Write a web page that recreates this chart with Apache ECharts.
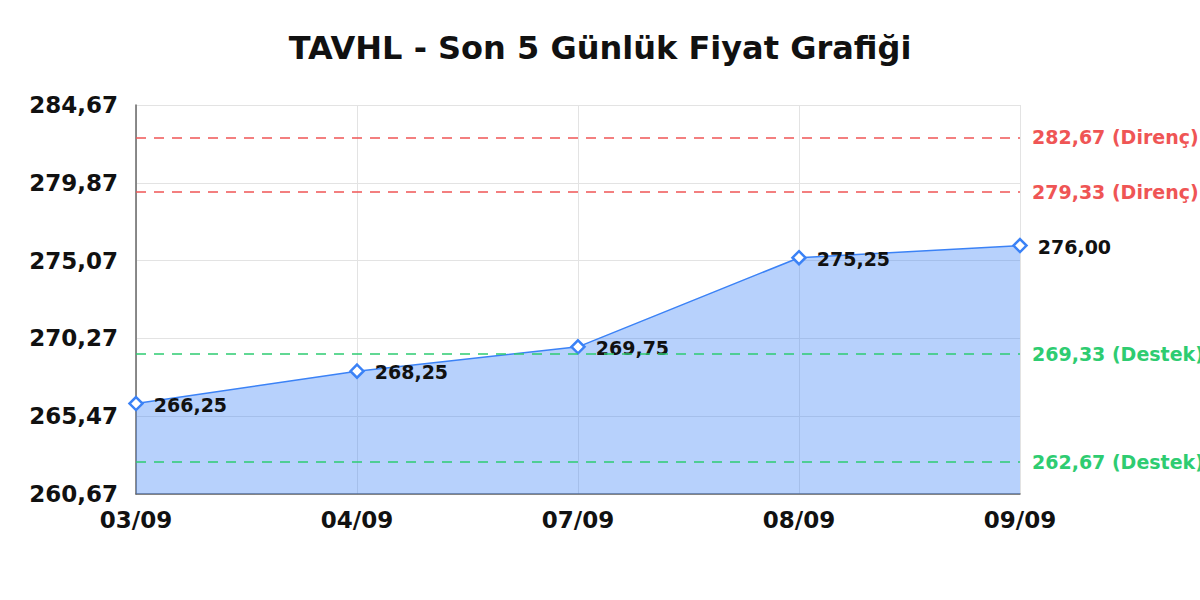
<!DOCTYPE html>
<html>
<head>
<meta charset="utf-8">
<script src="https://cdn.jsdelivr.net/npm/echarts@6/dist/echarts.min.js"></script>
<style>
  html, body { margin: 0; padding: 0; background: #fff; }
  #chart { width: 1200px; height: 600px; }
</style>
</head>
<body>
<div id="chart"></div>
<script>
const dates = ['03/09', '04/09', '07/09', '08/09', '09/09']
const prices = [266.25, 268.25, 269.75, 275.25, 276.00]
const resistance = [282.67, 279.33]
const support = [269.33, 262.67]
const y_min = 260.67
const y_max = 284.67
const y_step = 4.8

const fmt = v => v.toFixed(2).replace('.', ',')
const font = 'DejaVu Sans'

function level_line(value, kind, color) {
    return {
        yAxis: value,
        lineStyle: { color: color, type: [10, 8], width: 1.5 },
        label: {
            show: true,
            position: 'end',
            distance: 12,
            formatter: fmt(value) + ' (' + kind + ')',
            color: color,
            fontFamily: font,
            fontWeight: 'bold',
            fontSize: 19
        }
    }
}

// svg renderer so the text picks up DejaVu like normal DOM text
const chart = echarts.init(document.getElementById('chart'), null, { renderer: 'svg' })
chart.setOption({
    animation: false,
    title: {
        text: 'TAVHL - Son 5 Günlük Fiyat Grafiği',
        left: 'center',
        top: 27,
        textStyle: { fontFamily: font, fontWeight: 'bold', fontSize: 32, color: '#111' }
    },
    grid: { left: 136, right: 180, top: 105, bottom: 106 },
    xAxis: {
        type: 'category',
        data: dates,
        boundaryGap: false,
        axisLine: { lineStyle: { color: '#666', width: 1.5 } },
        axisTick: { show: false },
        axisLabel: { fontFamily: font, fontWeight: 'bold', fontSize: 23, color: '#111', margin: 14 },
        splitLine: { show: true, lineStyle: { color: '#e3e3e3' } }
    },
    yAxis: {
        type: 'value',
        min: y_min,
        max: y_max,
        interval: y_step,
        axisLine: { show: true, lineStyle: { color: '#666', width: 1.5 } },
        axisTick: { show: false },
        axisLabel: {
            fontFamily: font, fontWeight: 'bold', fontSize: 23, color: '#111', margin: 18,
            formatter: v => fmt(v)
        },
        splitLine: { lineStyle: { color: '#e3e3e3' } }
    },
    series: [{
        type: 'line',
        data: prices,
        symbol: 'diamond',
        symbolSize: 13,
        itemStyle: { color: '#fff', borderColor: '#3b82f6', borderWidth: 2.5 },
        lineStyle: { color: '#3b82f6', width: 1.5 },
        areaStyle: { color: '#3b82f6', opacity: 0.37 },
        label: {
            show: true,
            position: 'right',
            distance: 10,
            offset: [0, 1],
            formatter: p => fmt(p.value),
            fontFamily: font,
            fontWeight: 'bold',
            fontSize: 19,
            color: '#111'
        },
        markLine: {
            silent: true,
            symbol: 'none',
            data: [
                level_line(resistance[0], 'Direnç', '#ef5555'),
                level_line(resistance[1], 'Direnç', '#ef5555'),
                level_line(support[0], 'Destek', '#2ecc71'),
                level_line(support[1], 'Destek', '#2ecc71')
            ]
        }
    }]
})
</script>
</body>
</html>
